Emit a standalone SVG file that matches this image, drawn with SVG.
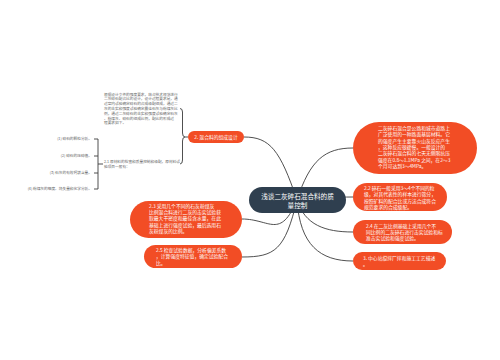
<svg xmlns="http://www.w3.org/2000/svg" width="500" height="360" viewBox="0 0 500 360">
<style>
.bg{fill:#ffffff}
.lnk{fill:none;stroke:#3c3c3c;stroke-width:0.9}
.org{fill:#f24d25}
.ctr{fill:#2f3f4f}
.t{font-family:"Noto Sans CJK SC","Noto Sans",sans-serif;}
.wt{fill:#ffffff;font-size:4.8px}
.ct{fill:#ffffff;font-size:6.6px}
.gt{fill:#666666;font-size:3.7px}
</style>
<rect class="bg" x="0" y="0" width="500" height="360"/>
<g id="connectors">
  <path class="lnk" d="M297,200 C280,150 270,137 244,137"/>
  <path class="lnk" d="M297,200 C280,240 270,219 242,219"/>
  <path class="lnk" d="M297,200 C285,250 275,257 242,257"/>
  <path class="lnk" d="M297,200 C310,160 325,148 353,148"/>
  <path class="lnk" d="M297,200 C320,198 335,197 353,197"/>
  <path class="lnk" d="M297,200 C305,225 325,232 353,232"/>
  <path class="lnk" d="M297,200 C300,245 320,261 353,261"/>
  <path class="lnk" d="M188,137 H185 M185,137 Q182.5,137 182.5,133 V112 Q182.5,108.5 180,108.5 M185,137 Q182.5,137 182.5,141 V160 Q182.5,164 180,164"/>
  <path class="lnk" d="M103,164 H98 M98,139 V189 M94,139 H98 M94,156 H98 M94,173 H98 M94,189 H98"/>
</g>
<g id="center">
  <rect class="ctr" x="249" y="187" width="97" height="26" rx="13"/>
  <text class="t ct" x="297.5" y="198.5" text-anchor="middle">浅谈二灰碎石混合料的质</text>
  <text class="t ct" x="297.5" y="207.5" text-anchor="middle">量控制</text>
</g>
<g id="n-r1">
  <rect class="org" x="353" y="122" width="124" height="52" rx="26"/>
  <text class="t wt" x="378" y="130">二灰碎石混合是公路和城市道路上</text>
  <text class="t wt" x="378" y="136.3">广泛使用的一种路面基层材料。它</text>
  <text class="t wt" x="378" y="142.6">的强度产生主要靠火山灰反应产生</text>
  <text class="t wt" x="378" y="148.9">，这种反应很缓慢。一般设计的</text>
  <text class="t wt" x="378" y="155.2">二灰碎石混合料的七天无侧限抗压</text>
  <text class="t wt" x="378" y="161.5">强度在0.8～1.1MPa 之间，在2～3</text>
  <text class="t wt" x="378" y="167.8">个月可达到3～4MPa。</text>
</g>
<g id="n-r2">
  <rect class="org" x="353" y="183" width="94" height="28" rx="14"/>
  <text class="t wt" x="364" y="190">2.2 碎石一般采用3～4个不同的粒</text>
  <text class="t wt" x="364" y="196.3">级，对其代表性的样本进行筛分，</text>
  <text class="t wt" x="364" y="202.6">按照矿料的配合比或方法合成符合</text>
  <text class="t wt" x="364" y="208.9">规范要求的合成级配。</text>
</g>
<g id="n-r3">
  <rect class="org" x="353" y="220" width="99" height="24" rx="12"/>
  <text class="t wt" x="366" y="227.5">2.4 在二灰比例基础上采用几个不</text>
  <text class="t wt" x="366" y="233.8">同比例的二灰碎石进行击实试验和标</text>
  <text class="t wt" x="366" y="240.1">准击实试验和强度试验。</text>
</g>
<g id="n-r4">
  <rect class="org" x="353" y="252" width="93" height="18" rx="9"/>
  <text class="t wt" x="363" y="259.5">3. 中心站搅拌厂拌和施工工艺描述</text>
  <text class="t wt" x="363" y="265.8">。</text>
</g>
<g id="n-l1">
  <rect class="org" x="188" y="131" width="56" height="12" rx="6"/>
  <text class="t wt" x="216" y="138.7" text-anchor="middle">2. 混合料的组成设计</text>
</g>
<g id="n-l2">
  <rect class="org" x="130" y="201" width="112" height="37" rx="18.5"/>
  <text class="t wt" x="149" y="207.6">2.3 采用几个不同的石灰粉煤灰</text>
  <text class="t wt" x="149" y="213.9">比例混合料进行二灰的击实试验获</text>
  <text class="t wt" x="149" y="220.2">取最大干密度和最佳含水量，在此</text>
  <text class="t wt" x="149" y="226.5">基础上进行强度试验，最后选用石</text>
  <text class="t wt" x="149" y="232.8">灰粉煤灰的比例。</text>
</g>
<g id="n-l3">
  <rect class="org" x="144" y="245" width="98" height="23" rx="11.5"/>
  <text class="t wt" x="156" y="252">2.5 检查试验数据，分析偏差系数</text>
  <text class="t wt" x="156" y="258.3">，计算强度特征值，确定试验配合</text>
  <text class="t wt" x="156" y="264.6">比。</text>
</g>
<g id="n-para">
  <text class="t gt" x="104" y="95.5">根据设计文件的强度要求，结合技术规范进行</text>
  <text class="t gt" x="104" y="100.3">二灰碎石配合比的设计，设计过程要求是，通</text>
  <text class="t gt" x="104" y="105.1">过室内试验确定碎石的合成级配组成，通过二</text>
  <text class="t gt" x="104" y="109.9">灰的击实和强度试验确定最佳石灰与粉煤灰比</text>
  <text class="t gt" x="104" y="114.7">例，通过二灰碎石的击实和强度试验确定石灰</text>
  <text class="t gt" x="104" y="119.5">、粉煤灰、碎石的组成比例，配比的形成过</text>
  <text class="t gt" x="104" y="124.3">程要求如下。</text>
</g>
<g id="n-21">
  <text class="t gt" x="104" y="163">2.1 原材料的检查和质量控制和级配，原材料试</text>
  <text class="t gt" x="104" y="167.8">验项目一般有：</text>
</g>
<g id="n-211">
  <text class="t gt" x="92" y="140.3" text-anchor="end">(1) 碎石的颗粒分析。</text>
</g>
<g id="n-212">
  <text class="t gt" x="92" y="157.3" text-anchor="end">(2) 碎石的压碎值。</text>
</g>
<g id="n-213">
  <text class="t gt" x="92" y="174.3" text-anchor="end">(3) 石灰的有效钙镁含量。</text>
</g>
<g id="n-214">
  <text class="t gt" x="92" y="190.3" text-anchor="end">(4) 粉煤灰的细度、烧失量和化学分析。</text>
</g>
</svg>
